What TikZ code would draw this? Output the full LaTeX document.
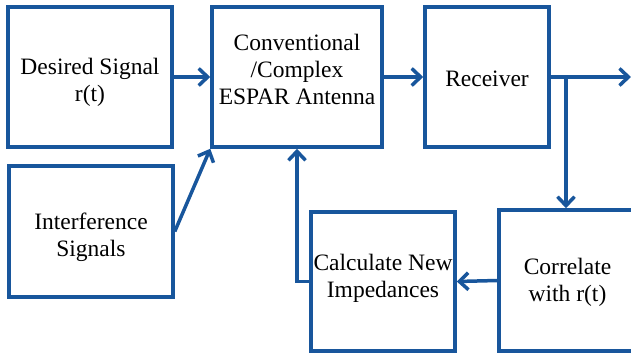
\documentclass[tikz,border=0pt]{standalone}
\usepackage{fontspec}
\setmainfont{Liberation Serif}
\usetikzlibrary{arrows.meta}
\definecolor{boxblue}{RGB}{24,86,156}
% text block, lifted by #1 inside its box
\newcommand{\blktext}[2]{\raisebox{#1}[\height][\depth]{\begin{tabular}{@{}c@{}}#2\end{tabular}}}
\tikzset{
  blok/.style={draw=boxblue, line width=3.5pt, inner sep=0pt,
    font=\fontsize{23.5}{27}\selectfont},
  pijl/.style={draw=boxblue, line width=3.5pt,
    -{Straight Barb[length=9pt,width=17pt,line width=3.5pt]}}
}
\begin{document}
\begin{tikzpicture}[x=1pt,y=-1pt]
	\clip (0,0) rectangle (631,353);
	\node[blok, minimum width=164pt, minimum height=140pt] (des) at (90,77) {\blktext{-6pt}{Desired Signal\\r(t)}};
	\node[blok, minimum width=170pt, minimum height=140pt] (esp) at (297,77) {\blktext{5pt}{Conventional\\/Complex\\ESPAR Antenna}};
	\node[blok, minimum width=124pt, minimum height=140pt] (rcv) at (487,77) {\blktext{-4pt}{Receiver}};
	\node[blok, minimum width=164pt, minimum height=131pt] (itf) at (91,231.5) {\blktext{-6pt}{Interference\\Signals}};
	\node[blok, minimum width=144pt, minimum height=139pt] (calc) at (383,281.5) {\blktext{3pt}{Calculate New\\Impedances}};
	\node[blok, minimum width=137pt, minimum height=141pt] (corr) at (567.5,280.5) {\blktext{-2pt}{Correlate\\with r(t)}};
		\coordinate (out) at (631,77);
		\coordinate (br) at (566,77);
	\draw[pijl] (des) -- (esp);
	\draw[pijl] (esp) -- (rcv);
	\draw[pijl] (rcv) -- (out);
	\draw[pijl] (br) -- (br |- corr.north);
	\draw[pijl] (corr.west) -- (calc.east);
	\draw[pijl] (calc.west) -- (calc.west -| esp.south) -- (esp.south);
	\draw[pijl] (itf.east) -- (esp.south west);
\end{tikzpicture}
\end{document}
